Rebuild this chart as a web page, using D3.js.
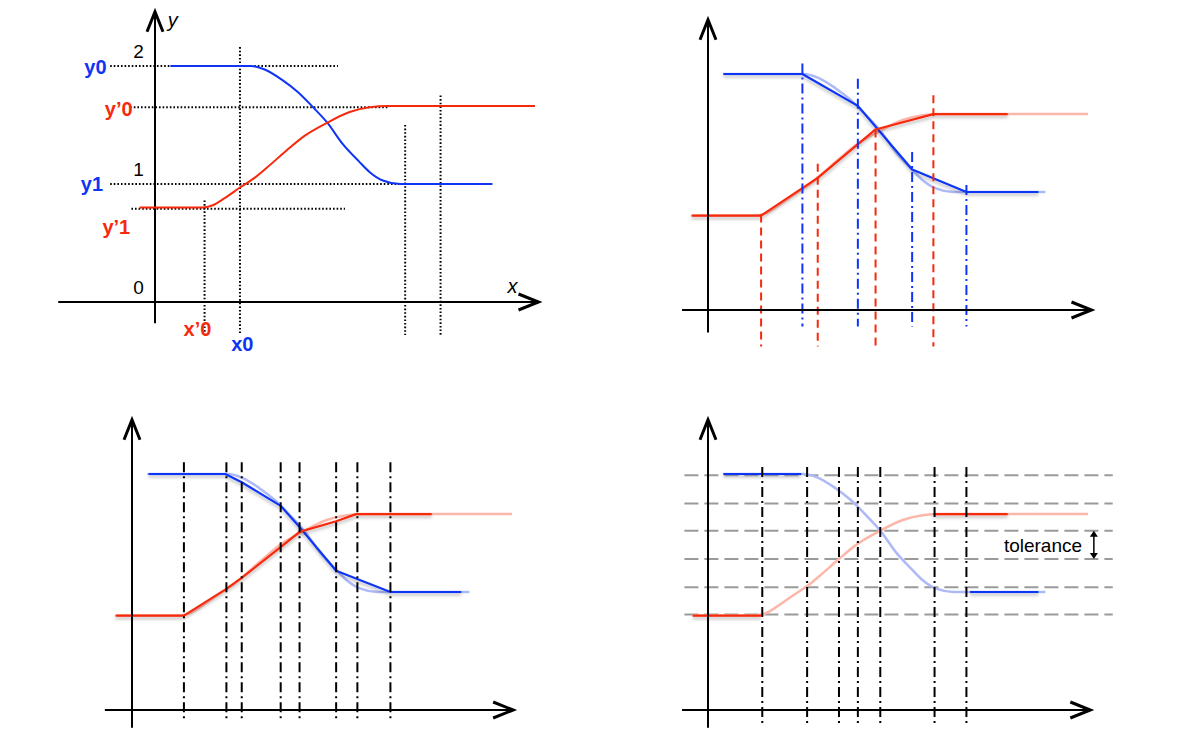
<!DOCTYPE html>
<html>
<head>
<meta charset="utf-8">
<script src="https://cdn.jsdelivr.net/npm/d3@7"></script>
<style>
  body { margin: 0; background: #fff; }
  svg { display: block; font-family: "Liberation Sans", Arial, Helvetica, sans-serif; }
</style>
</head>
<body>
<svg id="chart" width="1178" height="736"></svg>
<script>
// ---- Data (x in time units, y in level units) ----

// Sampled points of the two continuous transitions
const blueCurve = [[0.13,2.00],[0.81,2.00],[0.93,1.97],[1.08,1.88],[1.21,1.78],[1.34,1.65],
  [1.46,1.52],[1.59,1.34],[1.73,1.19],[1.82,1.10],[1.93,1.03],[2.08,1.00],[2.20,1.00],[2.86,1.00]];
const redCurve = [[-0.13,0.80],[0.40,0.80],[0.49,0.82],[0.59,0.88],[0.72,0.97],[0.84,1.05],
  [0.95,1.14],[1.11,1.28],[1.27,1.41],[1.46,1.52],[1.65,1.61],[1.82,1.65],[1.97,1.66],[3.22,1.66]];

// Panel 1: named levels and instants
const yTicks = [0, 1, 2];
const levelNames  = ["y0", "y\u20190", "y1", "y\u20191"];
const levelValues = [2.00, 1.65, 1.00, 0.79];
const levelFrom   = [-0.38, -0.21, -0.38, -0.20];
const levelTo     = [1.55, 1.97, 2.12, 1.61];
const instantNames  = ["x\u20190", "x0"];
const instantValues = [0.42, 0.72];
const p1Verticals = [0.42, 0.72, 2.12, 2.42];
const p1VertTops  = [0.86, 2.16, 1.50, 1.75];

// Panel 2: separate sampling of each signal
const p2BlueSteps = [[0.13,2.00],[0.80,2.00],[1.27,1.73],[1.73,1.19],[2.19,1.00],[2.80,1.00]];
const p2RedSteps  = [[-0.14,0.80],[0.45,0.80],[0.93,1.12],[1.42,1.53],[1.91,1.66],[2.54,1.66]];
const p2BlueTimes = [0.80, 1.27, 1.73, 2.19];
const p2BlueTops  = [2.09, 1.96, 1.34, 1.06];
const p2RedTimes  = [0.45, 0.93, 1.42, 1.91];
const p2RedTops   = [0.81, 1.24, 1.53, 1.82];

// Panel 3: common sampling of both signals
const p3Times = [0.44, 0.80, 0.93, 1.26, 1.42, 1.73, 1.91, 2.19];
const p3BlueSteps = [[0.14,2.00],[0.79,2.00],[0.93,1.93],[1.26,1.73],[1.42,1.55],[1.73,1.18],[2.19,1.00],[2.79,1.00]];
const p3RedSteps  = [[-0.14,0.80],[0.44,0.80],[0.79,1.02],[0.93,1.12],[1.26,1.38],[1.42,1.51],[1.73,1.60],[1.90,1.66],[2.54,1.66]];

// Panel 4: level-crossing sampling with a tolerance band
const p4Levels = [0.81, 1.04, 1.28, 1.52, 1.75, 1.99];
const p4Times  = [0.46, 0.84, 1.11, 1.27, 1.46, 1.92, 2.19];
const p4BlueHeld = [[[0.13,2.00],[0.79,2.00]], [[2.22,1.00],[2.80,1.00]]];
const p4RedHeld  = [[[-0.13,0.80],[0.45,0.80]], [[1.91,1.66],[2.54,1.66]]];
const toleranceLabel = "tolerance";

// ---- Drawing ----
const BLUE = "#0f34f6", RED = "#f7290c";
const BLUE_FAINT = "#aebaf8", RED_FAINT = "#fcb7aa";
const UNIT = 118;

const svg = d3.select("#chart");
const defs = svg.append("defs");
// user-space region so that perfectly horizontal strokes keep their shadow
const shadow = defs.append("filter").attr("id", "shadow")
  .attr("filterUnits", "userSpaceOnUse")
  .attr("x", 0).attr("y", 0).attr("width", 1178).attr("height", 736);
shadow.append("feDropShadow").attr("dx", 0).attr("dy", 2.5).attr("stdDeviation", 1.4)
  .attr("flood-color", "#000").attr("flood-opacity", 0.28);

function panel(ox, oy) {
  const g = svg.append("g");
  const x = d3.scaleLinear().domain([0, 1]).range([ox, ox + UNIT]);
  const y = d3.scaleLinear().domain([0, 1]).range([oy, oy - UNIT]);
  const line = d3.line().x(d => x(d[0])).y(d => y(d[1]));
  const smooth = d3.line().x(d => x(d[0])).y(d => y(d[1])).curve(d3.curveMonotoneX);
  return { g, x, y, line, smooth };
}

function axes(p, xExtent, yExtent) {
  const { g, x, y } = p;
  const a = g.append("g").attr("stroke", "#000").attr("fill", "none");
  a.append("line").attr("x1", x(xExtent[0])).attr("x2", x(xExtent[1]))
    .attr("y1", y(0)).attr("y2", y(0)).attr("stroke-width", 2);
  a.append("line").attr("x1", x(0)).attr("x2", x(0))
    .attr("y1", y(yExtent[0])).attr("y2", y(yExtent[1])).attr("stroke-width", 2);
  const tx = x(xExtent[1]), ty = y(0);
  a.append("path").attr("d", `M${tx - 20},${ty - 8}L${tx},${ty}L${tx - 20},${ty + 8}`)
    .attr("stroke-width", 3).attr("stroke-linejoin", "miter");
  const vx = x(0), vy = y(yExtent[1]);
  a.append("path").attr("d", `M${vx - 8},${vy + 20}L${vx},${vy}L${vx + 8},${vy + 20}`)
    .attr("stroke-width", 3).attr("stroke-linejoin", "miter");
}

function verticals(p, times, tops, bottom, color, dash) {
  p.g.append("g").selectAll("line").data(times).join("line")
    .attr("x1", d => p.x(d)).attr("x2", d => p.x(d))
    .attr("y1", (d, i) => p.y(Array.isArray(tops) ? tops[i] : tops))
    .attr("y2", p.y(bottom))
    .attr("stroke", color).attr("stroke-width", 2).attr("stroke-dasharray", dash);
}

function faint(p) {
  p.g.append("path").attr("d", p.smooth(blueCurve)).attr("fill", "none")
    .attr("stroke", BLUE_FAINT).attr("stroke-width", 2.5);
  p.g.append("path").attr("d", p.smooth(redCurve)).attr("fill", "none")
    .attr("stroke", RED_FAINT).attr("stroke-width", 2.5);
}

function bright(p, pts, color) {
  p.g.append("path").attr("d", p.line(pts)).attr("fill", "none")
    .attr("stroke", color).attr("stroke-width", 2.2)
    .attr("stroke-linejoin", "round").attr("filter", "url(#shadow)");
}

const DASH_DOT = "10,4,2,4";

// Panel 1 — two transitions with named levels
{
  const p = panel(155, 302);
  const { g, x, y } = p;
  const guides = g.append("g").attr("stroke", "#000").attr("stroke-width", 2)
    .attr("stroke-dasharray", "1.6,2");
  levelValues.forEach((v, i) => {
    guides.append("line").attr("x1", x(levelFrom[i])).attr("x2", x(levelTo[i]))
      .attr("y1", y(v)).attr("y2", y(v));
  });
  p1Verticals.forEach((t, i) => {
    guides.append("line").attr("x1", x(t)).attr("x2", x(t))
      .attr("y1", y(p1VertTops[i])).attr("y2", y(-0.28));
  });
  axes(p, [-0.82, 3.25], [-0.18, 2.46]);
  g.append("path").attr("d", p.smooth(blueCurve)).attr("fill", "none")
    .attr("stroke", BLUE).attr("stroke-width", 2);
  g.append("path").attr("d", p.smooth(redCurve)).attr("fill", "none")
    .attr("stroke", RED).attr("stroke-width", 2);

  // tick values on the vertical axis
  g.append("g").selectAll("text").data(yTicks).join("text")
    .attr("x", x(-0.14)).attr("y", d => y(d) - 15).attr("dy", "0.36em")
    .attr("text-anchor", "middle").attr("font-size", 19).attr("fill", "#000")
    .text(d => d);
  g.append("text").attr("x", x(0.15)).attr("y", 27).attr("font-size", 20)
    .attr("font-style", "italic").attr("text-anchor", "middle").text("y");
  g.append("text").attr("x", x(3.03)).attr("y", 293).attr("font-size", 20)
    .attr("font-style", "italic").attr("text-anchor", "middle").text("x");

  // level names
  const levelLabelX = [-0.41, -0.19, -0.44, -0.21];
  const levelLabelY = [1.99, 1.64, 1.00, 0.64];
  const levelColor = [BLUE, RED, BLUE, RED];
  levelNames.forEach((n, i) => {
    g.append("text").attr("x", x(levelLabelX[i])).attr("y", y(levelLabelY[i]))
      .attr("dy", "0.36em").attr("text-anchor", "end").attr("font-size", 20)
      .attr("font-weight", "bold").attr("fill", levelColor[i]).text(n);
  });
  // instant names
  const instantLabelX = [0.36, 0.74];
  const instantLabelY = [-0.23, -0.35];
  const instantColor = [RED, BLUE];
  instantNames.forEach((n, i) => {
    g.append("text").attr("x", x(instantLabelX[i])).attr("y", y(instantLabelY[i]))
      .attr("dy", "0.36em").attr("text-anchor", "middle").attr("font-size", 20)
      .attr("font-weight", "bold").attr("fill", instantColor[i]).text(n);
  });
}

// Panel 2 — each signal sampled at its own instants
{
  const p = panel(708, 310);
  faint(p);
  bright(p, p2BlueSteps, BLUE);
  bright(p, p2RedSteps, RED);
  verticals(p, p2BlueTimes, p2BlueTops, -0.14, BLUE, DASH_DOT);
  verticals(p, p2RedTimes, p2RedTops, -0.31, RED, "8,5");
  axes(p, [-0.22, 3.25], [-0.19, 2.46]);
}

// Panel 3 — both signals sampled at the union of instants
{
  const p = panel(132, 710);
  faint(p);
  bright(p, p3BlueSteps, BLUE);
  bright(p, p3RedSteps, RED);
  verticals(p, p3Times, 2.10, -0.10, "#000", DASH_DOT);
  axes(p, [-0.23, 3.23], [-0.15, 2.46]);
}

// Panel 4 — level crossings within a tolerance
{
  const p = panel(708, 710);
  const { g, x, y } = p;
  g.append("g").selectAll("line").data(p4Levels).join("line")
    .attr("x1", x(-0.20)).attr("x2", x(3.43))
    .attr("y1", d => y(d)).attr("y2", d => y(d))
    .attr("stroke", "#9a9a9a").attr("stroke-width", 2).attr("stroke-dasharray", "14,6");
  faint(p);
  p4BlueHeld.forEach(s => bright(p, s, BLUE));
  p4RedHeld.forEach(s => bright(p, s, RED));
  verticals(p, p4Times, 2.06, -0.13, "#000", DASH_DOT);
  axes(p, [-0.22, 3.24], [-0.15, 2.46]);

  // tolerance marker between two neighbouring levels
  const ax = x(3.27), y1 = y(p4Levels[3]), y2 = y(p4Levels[2]);
  g.append("line").attr("x1", ax).attr("x2", ax).attr("y1", y1 + 4).attr("y2", y2 - 4)
    .attr("stroke", "#000").attr("stroke-width", 1.5);
  g.append("path").attr("d", `M${ax - 4},${y1 + 6}L${ax},${y1}L${ax + 4},${y1 + 6}Z`).attr("fill", "#000");
  g.append("path").attr("d", `M${ax - 4},${y2 - 6}L${ax},${y2}L${ax + 4},${y2 - 6}Z`).attr("fill", "#000");
  g.append("text").attr("x", x(3.17)).attr("y", (y1 + y2) / 2).attr("dy", "0.36em")
    .attr("text-anchor", "end").attr("font-size", 19).attr("fill", "#000").text(toleranceLabel);
}
</script>
</body>
</html>
